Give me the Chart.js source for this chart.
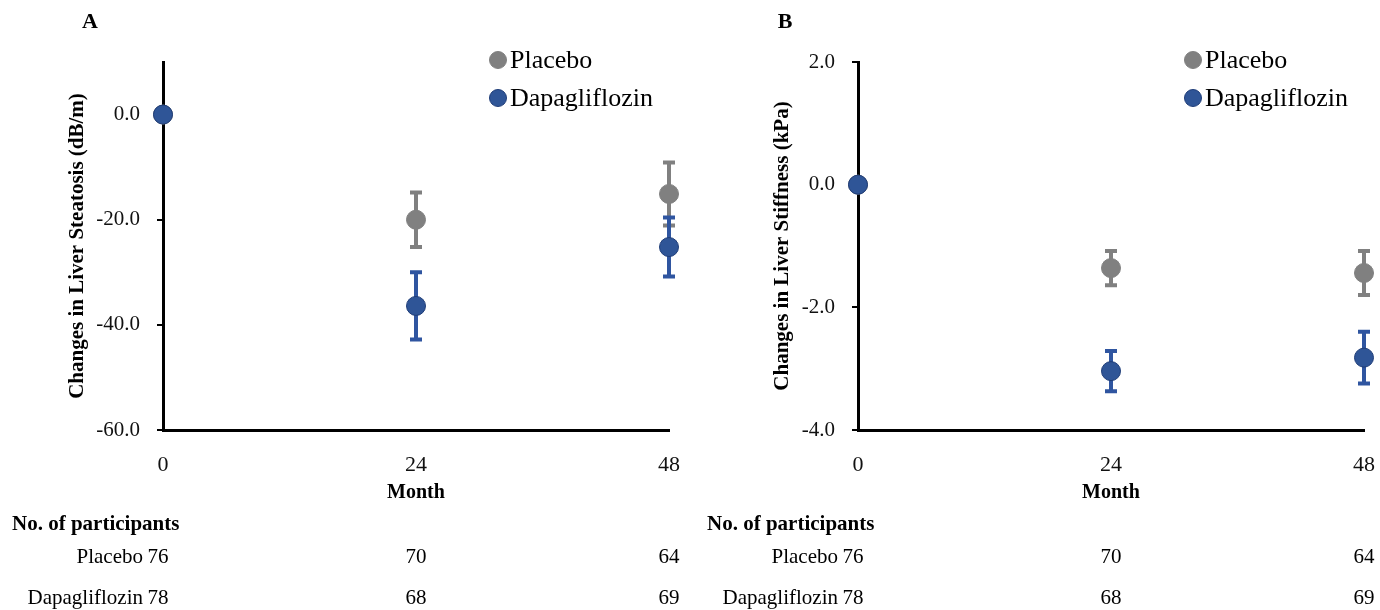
<!DOCTYPE html>
<html>
<head>
<meta charset="utf-8">
<script src="https://cdn.jsdelivr.net/npm/chart.js@4/dist/chart.umd.min.js"></script>
<style>
  body { margin: 0; background: #fff; }
  canvas { position: absolute; top: 0; }
  #chartA { left: 0; }
  #chartB { left: 695px; }
</style>
</head>
<body>
<canvas id="chartA" width="685" height="610"></canvas>
<canvas id="chartB" width="685" height="610"></canvas>
<script>
const months = [0, 24, 48];
const seriesNames = ["Placebo", "Dapagliflozin"];

// A: liver steatosis (dB/m)
const placeboA = [0, -20.0, -15.1];
const placeboErrA = [0, 5.2, 6.0];
const dapaA = [0, -36.4, -25.2];
const dapaErrA = [0, 6.4, 5.6];
const yTicksA = [-60, -40, -20, 0];

// B: liver stiffness (kPa)
const placeboB = [0, -1.36, -1.44];
const placeboErrB = [0, 0.28, 0.36];
const dapaB = [0, -3.04, -2.82];
const dapaErrB = [0, 0.33, 0.42];
const yTicksB = [-4, -2, 0, 2];

// participants table
const nPlacebo = [76, 70, 64];
const nDapa = [78, 68, 69];

const serif = "'Liberation Serif', 'Times New Roman', serif";
const grey = "#808080";
const blue = "#2f5597";
const blueEdge = "#1f3d78";
const blueBar = "#2f55a0";

// error bars drawn under the markers
const errorBars = {
  id: "errorBars",
  beforeDatasetsDraw(chart) {
    const ctx = chart.ctx;
    const xs = chart.scales.x, ys = chart.scales.y;
    chart.data.datasets.forEach((ds) => {
      ctx.save();
      ctx.strokeStyle = ds.barColor;
      ctx.lineWidth = 4;
      ds.data.forEach((p, i) => {
        const e = ds.errors[i];
        if (!e) return;
        const x = xs.getPixelForValue(p.x);
        const y1 = ys.getPixelForValue(p.y + e);
        const y2 = ys.getPixelForValue(p.y - e);
        ctx.beginPath();
        ctx.moveTo(x, y1); ctx.lineTo(x, y2);
        ctx.moveTo(x - 6, y1); ctx.lineTo(x + 6, y1);
        ctx.moveTo(x - 6, y2); ctx.lineTo(x + 6, y2);
        ctx.stroke();
      });
      ctx.restore();
    });
  }
};

// legend, panel letter, "Month" and the participants table
const extras = {
  id: "extras",
  afterDraw(chart, args, opts) {
    const ctx = chart.ctx;
    const area = chart.chartArea;
    const xs = chart.scales.x;
    ctx.save();
    ctx.fillStyle = "#000";
    ctx.textBaseline = "middle";

    ctx.font = "bold 22px " + serif;
    ctx.textAlign = "center";
    ctx.fillText(opts.letter, 90, 22);

    ctx.font = "bold 20px " + serif;
    ctx.fillText("Month", (area.left + area.right) / 2, 493);

    // legend
    const lx = area.left + 335;
    chart.data.datasets.forEach((ds, i) => {
      const ly = 60 + i * 38;
      ctx.beginPath();
      ctx.arc(lx, ly, 8.5, 0, Math.PI * 2);
      ctx.fillStyle = ds.backgroundColor;
      ctx.fill();
      ctx.lineWidth = 1;
      ctx.strokeStyle = ds.borderColor;
      ctx.stroke();
      ctx.fillStyle = "#000";
      ctx.font = "26px " + serif;
      ctx.textAlign = "left";
      ctx.fillText(ds.label, lx + 12, ly + 1);
    });

    // table
    ctx.font = "bold 21px " + serif;
    ctx.textAlign = "left";
    ctx.fillText("No. of participants", 12, 525);
    const rows = [[seriesNames[0], nPlacebo, 557], [seriesNames[1], nDapa, 598]];
    ctx.font = "21px " + serif;
    rows.forEach(([name, counts, y]) => {
      ctx.textAlign = "right";
      ctx.fillText(name, xs.getPixelForValue(months[0]) - 20, y);
      ctx.textAlign = "center";
      counts.forEach((n, i) => {
        const off = i === 0 ? -5 : 0;
        ctx.fillText(String(n), xs.getPixelForValue(months[i]) + off, y);
      });
    });
    ctx.restore();
  }
};

function makeChart(id, letter, yTitle, titlePad, yMin, yMax, yTicks, plc, plcErr, dap, dapErr) {
  return new Chart(document.getElementById(id), {
    type: "scatter",
    data: {
      datasets: [
        {
          label: seriesNames[0],
          data: months.map((m, i) => ({ x: m, y: plc[i] })),
          errors: plcErr,
          barColor: grey,
          backgroundColor: grey,
          borderColor: grey,
          borderWidth: 1,
          pointRadius: 9.5,
          order: 2,
          clip: false
        },
        {
          label: seriesNames[1],
          data: months.map((m, i) => ({ x: m, y: dap[i] })),
          errors: dapErr,
          barColor: blueBar,
          backgroundColor: blue,
          borderColor: blueEdge,
          borderWidth: 1,
          pointRadius: 9.5,
          order: 1,
          clip: false
        }
      ]
    },
    options: {
      responsive: false,
      animation: false,
      layout: { padding: { top: 62, right: 16, left: 0, bottom: 0 } },
      plugins: {
        legend: { display: false },
        tooltip: { enabled: false },
        extras: { letter: letter }
      },
      scales: {
        x: {
          type: "linear",
          min: 0,
          max: 48,
          afterBuildTicks: (s) => { s.ticks = months.map(v => ({ value: v })); },
          afterFit: (s) => { s.height = 180; s.paddingLeft = 0; s.paddingRight = 0; },
          grid: { display: false },
          border: { display: true, color: "#000", width: 3 },
          ticks: {
            color: "#111",
            padding: 14,
            font: { family: serif, size: 22 }
          }
        },
        y: {
          min: yMin,
          max: yMax,
          afterBuildTicks: (s) => { s.ticks = yTicks.map(v => ({ value: v })); },
          afterFit: (s) => { s.width = 163; },
          grid: { drawOnChartArea: false, drawTicks: true, tickLength: 6, color: "#000", lineWidth: 2 },
          border: { display: true, color: "#000", width: 3 },
          ticks: {
            color: "#111",
            padding: 17,
            font: { family: serif, size: 21 },
            callback: (v) => Number(v).toFixed(1)
          },
          title: {
            display: true,
            text: yTitle,
            color: "#000",
            padding: { top: titlePad, bottom: 0 },
            font: { family: serif, size: 21, weight: "bold" }
          }
        }
      }
    },
    plugins: [errorBars, extras]
  });
}

makeChart("chartA", "A", "Changes in Liver Steatosis (dB/m)", 65, -60, 10, yTicksA,
  placeboA, placeboErrA, dapaA, dapaErrA);
makeChart("chartB", "B", "Changes in Liver Stiffness (kPa)", 75, -4, 2, yTicksB,
  placeboB, placeboErrB, dapaB, dapaErrB);
</script>
</body>
</html>
